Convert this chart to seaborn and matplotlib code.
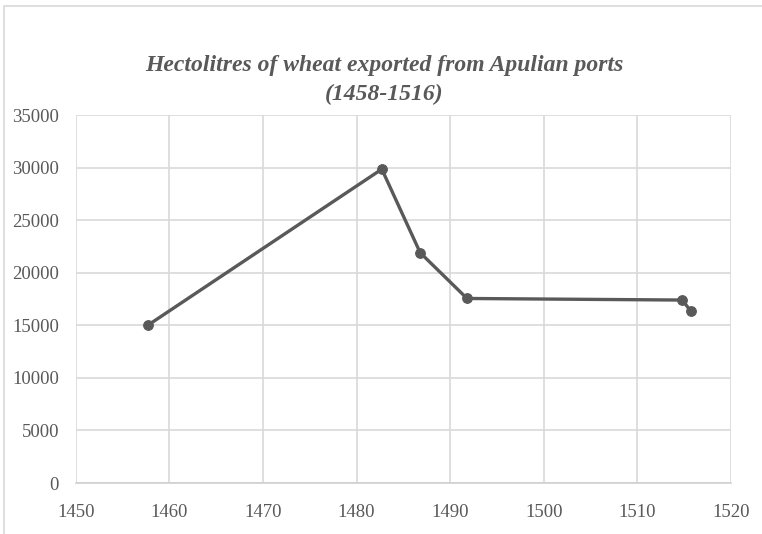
import numpy as np
import pandas as pd
import matplotlib
matplotlib.use("Agg")
import matplotlib.pyplot as plt
import seaborn as sns

# Dados
years = [1457.7, 1482.7, 1486.8, 1491.8, 1514.8, 1515.7]
hectolitres = [15000, 29850, 21900, 17550, 17400, 16350]

x_ticks = [1450, 1460, 1470, 1480, 1490, 1500, 1510, 1520]
y_ticks = [0, 5000, 10000, 15000, 20000, 25000, 30000, 35000]

df = pd.DataFrame({"Year": years, "Hectolitres": hectolitres})

sns.set_theme(style="whitegrid")
plt.rcParams["font.family"] = ["Liberation Serif", "DejaVu Serif"]

fig = plt.figure(figsize=(7.62, 5.34), dpi=100)
ax = fig.add_axes([75.7 / 762, 1 - 483 / 534, (731 - 75.7) / 762, (483 - 115) / 534])

line_color = "#595959"
sns.lineplot(data=df, x="Year", y="Hectolitres", sort=False, ax=ax,
             color=line_color, linewidth=2.4, marker="o", markersize=7,
             markeredgecolor=line_color, markerfacecolor=line_color)

ax.set_xlim(1450, 1520)
ax.set_ylim(0, 35000)
ax.set_xticks(x_ticks)
ax.set_yticks(y_ticks)
ax.set_xlabel("")
ax.set_ylabel("")

# Grade no estilo Excel
ax.grid(True, color="#d9d9d9", linewidth=1.2)
for side in ["top", "right", "left"]:
    ax.spines[side].set_visible(False)
ax.spines["bottom"].set_color("#d0d0d0")
ax.spines["bottom"].set_linewidth(1.2)
ax.tick_params(axis="both", length=0, labelsize=13.5, labelcolor="#595959")
ax.tick_params(axis="x", pad=15)
ax.tick_params(axis="y", pad=12)

fig.text(0.504, 0.85, "Hectolitres of wheat exported from Apulian ports\n(1458-1516)",
         ha="center", va="center", fontsize=17, fontweight="bold", fontstyle="italic",
         color="#595959", linespacing=1.45)

# Moldura do gráfico
frame = plt.Rectangle((4 / 762, -0.1), 1.1, 1 - 6.5 / 534 + 0.1, transform=fig.transFigure,
                      fill=False, edgecolor="#d9d9d9", linewidth=1.2)
fig.patches.append(frame)

fig.savefig("out.png", dpi=100, facecolor="white")
